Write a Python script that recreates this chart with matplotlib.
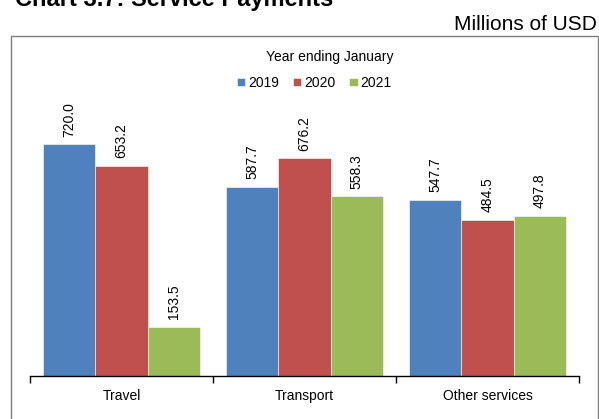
import matplotlib
matplotlib.use("Agg")
import matplotlib.pyplot as plt
from matplotlib.patches import Rectangle
import numpy as np

plt.rcParams['font.family'] = ['Liberation Sans', 'DejaVu Sans']

categories = ["Travel", "Transport", "Other services"]
years = ["2019", "2020", "2021"]
values_2019 = [720.0, 587.7, 547.7]
values_2020 = [653.2, 676.2, 484.5]
values_2021 = [153.5, 558.3, 497.8]
series = [values_2019, values_2020, values_2021]
colors = ["#4F81BD", "#C0504D", "#9BBB59"]

W, H = 599, 419
fig = plt.figure(figsize=(W / 100, H / 100), dpi=100)

# outer frame (extends past right/bottom edge)
fig.patches.append(Rectangle((11 / W, -0.05), (598 - 11) / W, 1 - 36 / H + 0.05,
                             transform=fig.transFigure, fill=False,
                             edgecolor="#7f7f7f", linewidth=1.0))

ax = fig.add_axes([30 / W, (H - 376) / H, (579 - 30) / W, 322 / H])

x = np.arange(len(categories))
bw = 0.285
for i, (vals, col, yr) in enumerate(zip(series, colors, years)):
    pos = x + (i - 1) * bw
    bars = ax.bar(pos, vals, width=bw, color=col, edgecolor="white",
                  linewidth=0.4, label=yr)
    for b, v in zip(bars, vals):
        ax.annotate(f"{v:.1f}", (b.get_x() + b.get_width() / 2, v),
                    xytext=(0, 5.5), textcoords="offset points",
                    rotation=90, ha="center", va="bottom", fontsize=10)

ax.set_xlim(-0.5, len(categories) - 0.5)
ax.set_ylim(0, 1000)
for s in ["left", "right", "top"]:
    ax.spines[s].set_visible(False)
ax.spines["bottom"].set_linewidth(1.0)
ax.set_yticks([])
ax.set_xticks(np.arange(len(categories) + 1) - 0.5)
ax.set_xticklabels([])
ax.tick_params(axis="x", which="major", direction="out", length=5, width=1)
ax.set_xticks(x, minor=True)
ax.set_xticklabels(categories, minor=True, fontsize=10)
ax.tick_params(axis="x", which="minor", length=0, pad=9)

leg = fig.legend(*ax.get_legend_handles_labels(), loc="center",
                 bbox_to_anchor=(314.5 / W, 1 - 83 / H), ncol=3, frameon=False,
                 fontsize=10, handlelength=0.58, handleheight=0.58,
                 handletextpad=0.22, columnspacing=1.0)
fig.text(330 / W, 1 - 57 / H, "Year ending January", fontsize=10,
         ha="center", va="center")

fig.text(15 / W, 1 - 6 / H, "Chart 3.7: Service Payments", fontsize=17,
         fontweight="bold", ha="left", va="baseline")
fig.text(597 / W, 1 - 30 / H, "Millions of USD", fontsize=15,
         ha="right", va="baseline")

fig.savefig("out.png", dpi=100)
